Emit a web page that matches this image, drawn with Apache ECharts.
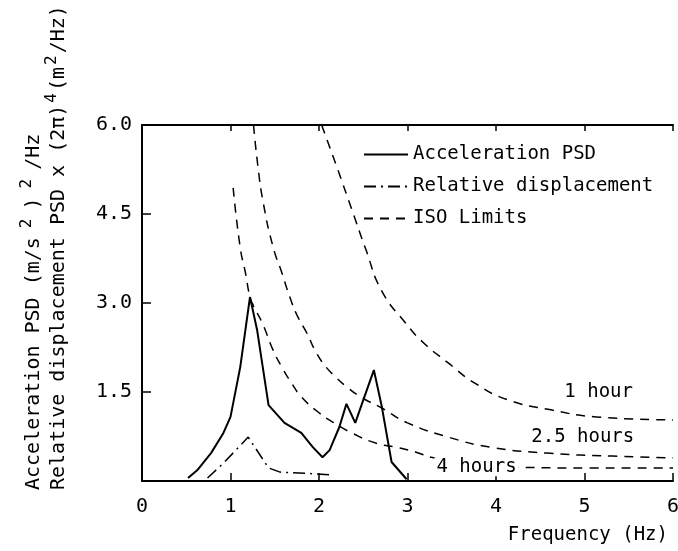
<!DOCTYPE html>
<html><head><meta charset="utf-8">
<script src="https://cdn.jsdelivr.net/npm/echarts@6/dist/echarts.min.js"></script>
<style>html,body{margin:0;padding:0;background:#fff}#c{width:678px;height:551px}</style>
</head><body><div id="c"></div>
<script>
// Frequency (Hz), value pairs
const accelerationPSD = [[0.52,0.05],[0.63,0.19],[0.78,0.47],[0.92,0.81],[1.0,1.08],[1.11,1.92],[1.22,3.10],[1.30,2.55],[1.43,1.28],[1.61,0.98],[1.80,0.81],[1.93,0.57],[2.04,0.40],[2.12,0.52],[2.23,0.91],[2.31,1.30],[2.41,0.98],[2.49,1.32],[2.62,1.87],[2.71,1.25],[2.82,0.32],[2.99,0.03]];
const relativeDisplacement = [[0.74,0.05],[0.92,0.30],[1.20,0.74],[1.43,0.22],[1.56,0.15],[1.97,0.12],[2.17,0.10]];
const iso1hour = [[2.03,6.0],[2.2,5.30],[2.37,4.58],[2.53,3.90],[2.71,3.20],[2.98,2.66],[3.18,2.33],[3.46,1.99],[3.76,1.65],[4.13,1.37],[4.62,1.20],[5.13,1.08],[6.0,1.03]];
const iso2p5hours = [[1.26,6.0],[1.31,5.3],[1.37,4.69],[1.48,3.95],[1.58,3.51],[1.67,3.10],[1.75,2.80],[1.86,2.50],[1.97,2.16],[2.08,1.92],[2.19,1.75],[2.31,1.59],[2.49,1.40],[2.71,1.23],[3.0,0.98],[3.46,0.74],[3.94,0.57],[4.58,0.47],[5.32,0.42],[6.0,0.39]];
const iso4hours = [[1.03,4.94],[1.11,3.93],[1.17,3.50],[1.22,3.10],[1.26,2.95],[1.36,2.66],[1.48,2.21],[1.58,1.92],[1.69,1.65],[1.80,1.42],[2.0,1.15],[2.17,0.98],[2.37,0.81],[2.64,0.64],[2.90,0.56],[3.09,0.49],[3.27,0.40],[3.65,0.31],[4.0,0.26],[4.3,0.23],[5.0,0.22],[6.0,0.22]];
const isoLabelText = ['1 hour','2.5 hours','4 hours'];
const isoLabelPos = [[5.16,1.50],[4.98,0.74],[3.78,0.24]];
const xTicks = [0,1,2,3,4,5,6];
const yTicks = [1.5,3.0,4.5,6.0];

const FONT = 'DejaVu Sans Mono';
const chart = echarts.init(document.getElementById('c'), null, {renderer:'canvas'});
const dashed = {color:'#000', width:1.5, type:[9,7]};
const option = {
  backgroundColor:'#fff',
  animation:false,
  grid:{left:142, right:5, top:125, bottom:70, outerBoundsMode:'none', containLabel:false},
  legend:{
    data:['Acceleration PSD','Relative displacement','ISO Limits'],
    orient:'vertical', left:363, top:145, padding:0, itemWidth:44, itemHeight:14, itemGap:13,
    itemStyle:{opacity:0},
    textStyle:{fontFamily:FONT, fontSize:19, color:'#000'}
  },
  xAxis:[{
    type:'value', min:0, max:6, interval:1, position:'bottom',
    axisLine:{show:true, onZero:false, lineStyle:{color:'#000', width:2}},
    axisTick:{show:true, inside:true, length:8, lineStyle:{color:'#000', width:1.5}},
    axisLabel:{fontFamily:FONT, fontSize:20, color:'#000', margin:16, formatter:v=>xTicks.includes(v)?String(v):''},
    splitLine:{show:false}
  },{
    type:'value', min:0, max:6, interval:1, position:'top',
    axisLine:{show:true, onZero:false, lineStyle:{color:'#000', width:2}},
    axisTick:{show:true, inside:true, length:6, lineStyle:{color:'#000', width:1.5}},
    axisLabel:{show:false}, splitLine:{show:false}
  }],
  yAxis:[{
    type:'value', min:0, max:6, interval:1.5,
    axisLine:{show:true, onZero:false, lineStyle:{color:'#000', width:2}},
    axisTick:{show:true, inside:true, length:9, lineStyle:{color:'#000', width:1.5}},
    axisLabel:{fontFamily:FONT, fontSize:20, color:'#000', margin:10,
      formatter:v=>yTicks.includes(v)?v.toFixed(1):''},
    splitLine:{show:false}
  },{
    type:'value', min:0, max:6, interval:1.5, position:'right',
    axisLine:{show:false},
    axisTick:{show:true, inside:false, length:6, lineStyle:{color:'#000', width:1.5}},
    axisLabel:{show:false}, splitLine:{show:false}
  }],
  series:[
    {name:'Acceleration PSD', type:'line', data:accelerationPSD, symbol:'none', smooth:false,
     lineStyle:{color:'#000', width:2}, itemStyle:{color:'#000'}, z:3},
    {name:'Relative displacement', type:'line', data:relativeDisplacement, symbol:'none',
     lineStyle:{color:'#000', width:1.5, type:[12,5,2,5]}, itemStyle:{color:'#000'}, z:3},
    {name:'ISO Limits', type:'line', data:iso1hour, symbol:'none', smooth:0.5,
     lineStyle:dashed, itemStyle:{color:'#000'}, z:2},
    {name:'ISO Limits', type:'line', data:iso2p5hours, symbol:'none', smooth:0.5,
     lineStyle:dashed, itemStyle:{color:'#000'}, z:2},
    {name:'ISO Limits', type:'line', data:iso4hours, symbol:'none', smooth:0.5,
     lineStyle:dashed, itemStyle:{color:'#000'}, z:2},
    {name:'ISO labels', type:'scatter', symbolSize:0, z:5, silent:true,
     itemStyle:{opacity:1, color:'#000'},
     data:isoLabelPos.map((p,i)=>({value:p, name:isoLabelText[i]})),
     label:{show:true, position:'inside', formatter:p=>p.name, fontFamily:FONT, fontSize:19, color:'#000',
            backgroundColor:'#fff', padding:[0,2]}}
  ],
  graphic:[
    {type:'text', x:34, y:490, rotation:Math.PI/2,
     style:{text:'Acceleration PSD (m/s{sup|2}){sup|2}/Hz', rich:{sup:{fontFamily:FONT, fontSize:16, padding:[0,9,14,9]}},
            font:'20px "DejaVu Sans Mono"', fontFamily:FONT, fontSize:20, fill:'#000', textAlign:'left', textVerticalAlign:'middle'}},
    {type:'text', x:59, y:490, rotation:Math.PI/2,
     style:{text:'Relative displacement PSD x (2π){sup|4}(m{sup|2}/Hz)', rich:{sup:{fontFamily:FONT, fontSize:16, padding:[0,2,14,2]}},
            font:'20px "DejaVu Sans Mono"', fontFamily:FONT, fontSize:20, fill:'#000', textAlign:'left', textVerticalAlign:'middle'}},
    {type:'text', x:668, y:535,
     style:{text:'Frequency (Hz)', font:'19px "DejaVu Sans Mono"', fill:'#000', textAlign:'right', textVerticalAlign:'middle'}}
  ]
};
chart.setOption(option);
</script>
</body></html>
